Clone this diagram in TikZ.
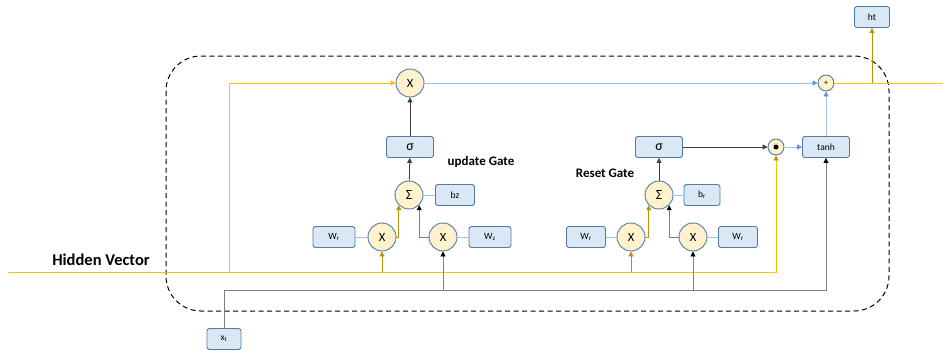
\documentclass[tikz,border=0pt]{standalone}
\usepackage{fontspec}
\setmainfont{Carlito}
\usetikzlibrary{arrows.meta}

\definecolor{boxfill}{HTML}{DAE7F5}
\definecolor{opfill}{HTML}{FFF2CC}
\definecolor{edge}{HTML}{4E7BAA}
\definecolor{amber}{HTML}{FFC000}
\definecolor{gold}{HTML}{BF9000}
\definecolor{paleblue}{HTML}{9DC3E6}
\definecolor{midblue}{HTML}{5B9BD5}
\definecolor{xgray}{HTML}{7F7F7F}

\begin{document}
\begin{tikzpicture}[x=1pt,y=-1pt,
    >={Triangle[length=5pt,width=5pt]},
    box/.style={draw=edge,fill=boxfill,rounded corners=2.5pt,line width=0.9pt,
      minimum height=21pt,inner sep=0pt,font=\fontsize{9.5}{10}\selectfont},
    op/.style={circle,draw=edge,fill=opfill,line width=0.9pt,minimum size=28pt,
      inner sep=0pt,font=\fontsize{12.5}{14}\selectfont},
    smallop/.style={op,minimum size=16pt,font=\fontsize{8}{8}\selectfont},
    gatelabel/.style={font=\bfseries\fontsize{13}{14}\selectfont},
    hid/.style={draw=amber,line width=0.9pt},
    goldline/.style={draw=gold,line width=0.9pt},
    xline/.style={draw=xgray,line width=0.8pt,-{Triangle[length=5pt,width=5pt,color=black]}},
    blk/.style={draw=black!75,line width=0.8pt,->},
    blu/.style={draw=paleblue,line width=0.9pt,-{Triangle[length=5pt,width=5pt,color=midblue]}},
    wire/.style={draw=paleblue,line width=0.9pt}]
    \useasboundingbox (0,0) rectangle (943,356);
    \draw[line width=1pt,dash pattern=on 5pt off 3.5pt,rounded corners=35pt] (166,56) rectangle (889,311);

    \node[op] (Xh) at (410,83) {X};
    \node[smallop] (P) at (826,83) {+};
    \node[box,minimum width=35pt] (ht) at (872,17) {ht};

    \node[box,minimum width=47pt,font=\fontsize{14}{14}\selectfont] (G1) at (410,147) {σ};
    \node[box,minimum width=47pt,font=\fontsize{14}{14}\selectfont] (G2) at (659,147) {σ};
    \node[smallop] (D) at (776,147) {};
    \fill (D) circle (2.5pt);
    \node[box,minimum width=47pt] (T) at (826,147) {tanh};

    \node[op,font=\fontsize{14}{14}\selectfont] (S1) at (409,195) {Σ};
    \node[box,minimum width=39pt] (B1) at (455,195) {bz};
    \node[op,font=\fontsize{14}{14}\selectfont] (S2) at (659,195) {Σ};
    \node[box,minimum width=36pt] (B2) at (702,195) {b\textsubscript{r}};

    \node[op] (X1) at (382,237) {X};
    \node[op] (X2) at (443,237) {X};
    \node[op] (X3) at (631,237) {X};
    \node[op] (X4) at (693,237) {X};
    \node[box,minimum width=42pt] (W1) at (334,237) {W\textsubscript{r}};
    \node[box,minimum width=42pt] (W2) at (490,237) {W\textsubscript{z}};
    \node[box,minimum width=39pt] (W3) at (586,237) {W\textsubscript{r}};
    \node[box,minimum width=39pt] (W4) at (738,237) {W\textsubscript{r}};

    \node[box,minimum width=34pt] (xt) at (224,339) {x\textsubscript{t}};

    \node[font=\bfseries\fontsize{16.5}{17}\selectfont] (hv) at (101,260) {Hidden Vector};
    \node[gatelabel] (ug) at (481,162) {update Gate};
    \node[gatelabel] (rg) at (605,173) {Reset Gate};

    \coordinate (h0) at (8,272);
    \coordinate (h1) at (229,272);
    \coordinate (x0) at (224,290);
    \coordinate (hend) at (943,83);

    \draw[hid,-{Triangle[length=5pt,width=5pt,color=gold]}] (h0) -| (D);
    \draw[hid,->] (h1) |- (Xh);
    \draw[goldline,->] (X1 |- h0) -- (X1);
    \draw[goldline,->] (X3 |- h0) -- (X3);
    \draw[goldline,->] (X1.east) -| (S1.225);
    \draw[goldline,->] (X3.east) -| (S2.225);

    \draw[xline] (xt) |- (T |- x0) -- (T);
    \draw[xline] (X2 |- x0) -- (X2);
    \draw[xline] (X4 |- x0) -- (X4);
    \draw[xline] (X2.west) -| (S1.315);
    \draw[xline] (X4.west) -| (S2.315);

    \draw[blk] (S1) -- (G1);
    \draw[blk] (G1) -- (Xh);
    \draw[blk] (S2) -- (G2);
    \draw[blk] (G2) -- (D);

    \draw[blu] (D) -- (T);
    \draw[blu] (T) -- (P);
    \draw[blu] (Xh) -- (P);
    \draw[hid] (P) -- (hend);
    \draw[goldline,->] (ht |- hend) -- (ht);

    \draw[wire] (W1) -- (X1);
    \draw[wire] (X2) -- (W2);
    \draw[wire] (S1) -- (B1);
    \draw[wire] (W3) -- (X3);
    \draw[wire] (X4) -- (W4);
    \draw[wire] (S2) -- (B2);
\end{tikzpicture}
\end{document}
